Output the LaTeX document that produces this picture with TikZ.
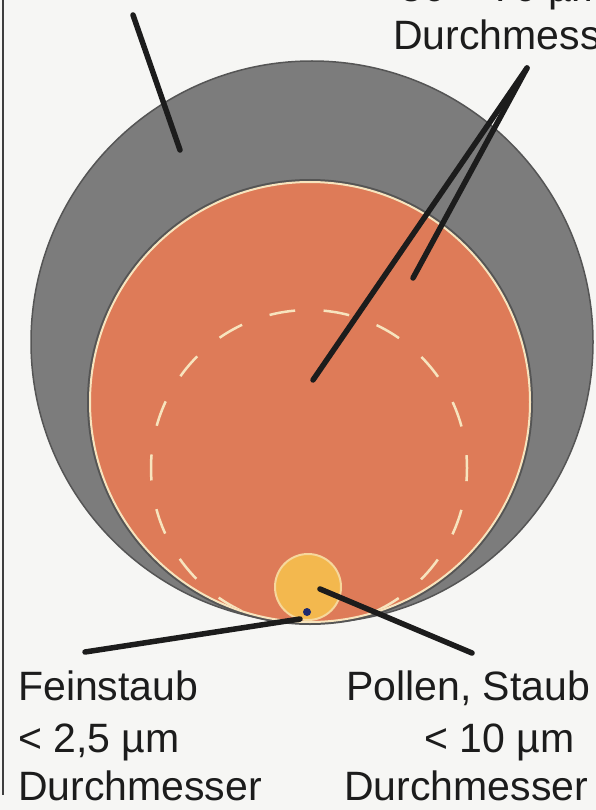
\documentclass[tikz,border=0pt]{standalone}
\usepackage{fontspec}
\setmainfont{Liberation Sans}
\definecolor{paper}{HTML}{F6F6F4}
\definecolor{hairgray}{HTML}{7C7C7C}
\definecolor{sandorange}{HTML}{DE7B58}
\definecolor{cream}{HTML}{F7E4BE}
\definecolor{pollen}{HTML}{F3B84E}
\definecolor{ink}{HTML}{1C1C1C}
\definecolor{dotblue}{HTML}{1E2A6E}
\begin{document}
\begin{tikzpicture}[x=1pt,y=-1pt,
  lbl/.style={font=\fontsize{41}{50}\selectfont, inner sep=0pt, anchor=base west, text=ink},
  leader/.style={draw=ink, line width=5.5pt, line cap=round}]
\useasboundingbox (0,0) rectangle (596,810);
\fill[paper] (0,0) rectangle (596,810);
\draw[ink!85, line width=2.5pt] (3,0) -- (3,795);
% big gray circle
\coordinate (hairc) at (312,342);
\fill[hairgray, draw=ink!75, line width=1.5pt] (hairc) circle[radius=281];
% orange circle
\coordinate (sandc) at (310,402);
\fill[ink!75] (sandc) circle[radius=223];
\fill[sandorange, draw=cream, line width=2pt] (sandc) circle[radius=220];
% dashed circle
\begin{scope}
\clip (sandc) circle[radius=219];
\draw[cream, line width=2.5pt, dash pattern=on 26pt off 29.2pt, dash phase=40.6pt]
  (309,310) arc[start angle=-90, delta angle=360, radius=158];
\end{scope}
% pollen and fine dust
\fill[pollen, draw=cream!70!pollen, line width=2pt] (308,587) circle[radius=33];
\fill[dotblue] (307,612) circle[radius=4];
% leader lines
\coordinate (tlA) at (133,15);
\coordinate (tlB) at (180,150);
\coordinate (trA) at (527,68);
\coordinate (trB) at (313,380);
\coordinate (trC) at (413,278);
\coordinate (blA) at (85,652);
\coordinate (blB) at (300,619);
\coordinate (brA) at (320,589);
\coordinate (brB) at (472,653);
\draw[leader] (tlA) -- (tlB);
\draw[leader] (trA) -- (trB);
\draw[leader] (trA) -- (trC);
\draw[leader] (blA) -- (blB);
\draw[leader] (brA) -- (brB);
% labels
\node[lbl] (top1) at (400,2) {50 – 70 µm};
\node[lbl] (top2) at (393,50) {Durchmesser};
\node[lbl] (fein1) at (18,700) {Feinstaub};
\node[lbl] (fein2) at (18,752) {< 2,5 µm};
\node[lbl] (fein3) at (18,800) {Durchmesser};
\node[lbl] (pol1) at (346,700) {Pollen, Staub};
\node[lbl] (pol2) at (424,752) {< 10 µm};
\node[lbl] (pol3) at (344,800) {Durchmesser};
\end{tikzpicture}
\end{document}
